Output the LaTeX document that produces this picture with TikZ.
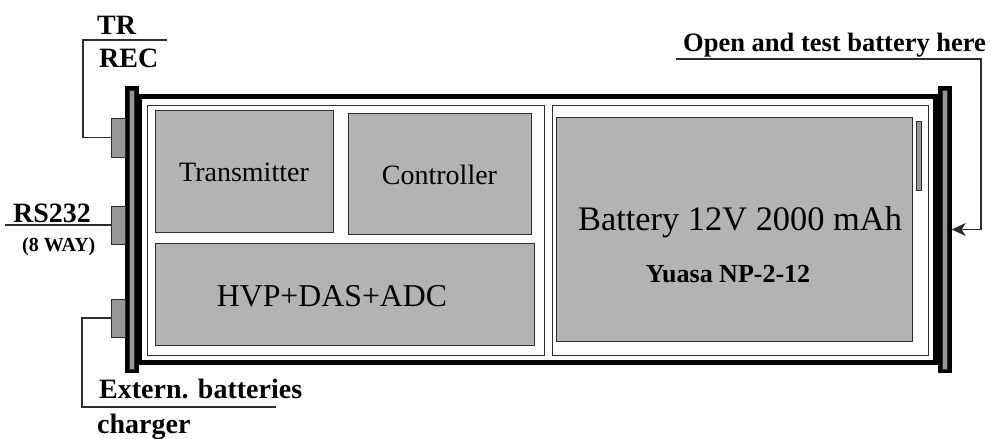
\documentclass[tikz,border=0pt]{standalone}
\usepackage{fontspec}
\setmainfont{Liberation Serif}
\usetikzlibrary{arrows.meta, positioning}
\definecolor{boxgray}{RGB}{179,179,179}
\definecolor{pluggray}{RGB}{150,150,150}
\definecolor{wiregray}{RGB}{45,45,45}

\begin{document}
\begin{tikzpicture}[x=1bp, y=-1bp,
  unit/.style={rectangle, draw=wiregray, line width=1bp, fill=boxgray,
    inner sep=0pt, font=\fontsize{28bp}{30bp}\selectfont},
  bay/.style={rectangle, draw=wiregray, line width=1bp, fill=white, inner sep=0pt},
  endcap/.style={rectangle, fill=black, minimum width=14bp,
    minimum height=287bp, inner sep=0pt},
  strip/.style={rectangle, draw=wiregray, line width=0.6bp, fill=pluggray, inner sep=0pt},
  plug/.style={strip, minimum width=14bp, minimum height=38bp},
  tag/.style={font=\bfseries\fontsize{28bp}{30bp}\selectfont, inner sep=0pt},
  wire/.style={draw=wiregray, line width=1.1bp}
]
  \useasboundingbox (0,0) rectangle (993,439);

  % housing and end caps
  \node[draw, line width=5bp, minimum width=795bp, minimum height=265.5bp,
    inner sep=0pt] (case) at (537.5,229.25) {};
  \node[endcap] (lcap) at (131.5,229.5) {};
  \node[endcap] (rcap) at (944.5,229.5) {};
  \node[strip, minimum width=5bp, minimum height=279bp] (lstrip) at (lcap) {};
  \node[strip, minimum width=5bp, minimum height=279bp] (rstrip) at (rcap) {};

  % connectors
  \node[plug, minimum height=39bp] (trplug) at (118,137.5) {};
  \node[plug] (rsplug) at (118,225) {};
  \node[plug] (explug) at (118,318) {};

  % compartments
  \node[bay, minimum width=396bp, minimum height=249bp] (elbay) at (346,230.5) {};
  \node[bay, minimum width=376bp, minimum height=249bp] (batbay) at (740,230.5) {};

  % electronics
  \node[unit, minimum width=178bp, minimum height=122bp] (tx) at (244,172) {Transmitter};
  \node[unit, minimum width=183bp, minimum height=121bp] (ctl) at (439.5,174.5) {Controller};
  \node[unit, minimum width=378bp, minimum height=102bp] (hvp) at (345,295) {};
  \node[inner sep=0pt, anchor=base, font=\fontsize{31.8bp}{34bp}\selectfont]
    (hvptext) at (332,307) {HVP+DAS+ADC};

  % battery
  \node[unit, minimum width=356bp, minimum height=223bp] (bat) at (734,229.5) {};
  \node[strip, minimum width=5bp, minimum height=69bp] (batstrip) at (918.5,155.5) {};
  \node[inner sep=0pt, anchor=base, font=\fontsize{34.4bp}{36bp}\selectfont]
    (battext) at (740,231) {Battery 12V 2000 mAh};
  \node[tag, anchor=base, font=\bfseries\fontsize{26bp}{28bp}\selectfont]
    (battype) at (728,283) {Yuasa NP-2-12};

  % labels
  \node[tag, anchor=base west] (trtag) at (97,35) {TR};
  \node[tag, anchor=base west] (rectag) at (99,68) {REC};
  \node[tag, anchor=base west] (rstag) at (13,223) {RS232};
  \node[tag, anchor=base west, font=\bfseries\fontsize{20bp}{22bp}\selectfont]
    (waytag) at (22,252) {(8 WAY)};
  \node[tag, anchor=base west] (extag) at (99,398) {Extern. batteries};
  \node[tag, anchor=base west] (chtag) at (97,433) {charger};
  \node[tag, anchor=base west, font=\bfseries\fontsize{26.5bp}{28bp}\selectfont]
    (optag) at (683,52) {Open and test battery here};

  % leader lines
  \coordinate (trknee) at (83,40);
  \coordinate (trend) at (167,40);
  \coordinate (rsend) at (5,225);
  \coordinate (exknee) at (82,407);
  \coordinate (exend) at (276,407);
  \coordinate (opstart) at (676,59);
  \coordinate (opknee) at (981,59);

  \draw[wire] (trplug.west) -| (trknee) -- (trend);
  \draw[wire] (rsplug.west) -- (rsend);
  \draw[wire] (explug.west) -| (exknee) -- (exend);
  \draw[wire, -{Stealth[length=14bp, width=13bp, inset=4bp]}]
    (opstart) -- (opknee) |- (rcap.east);
\end{tikzpicture}
\end{document}
